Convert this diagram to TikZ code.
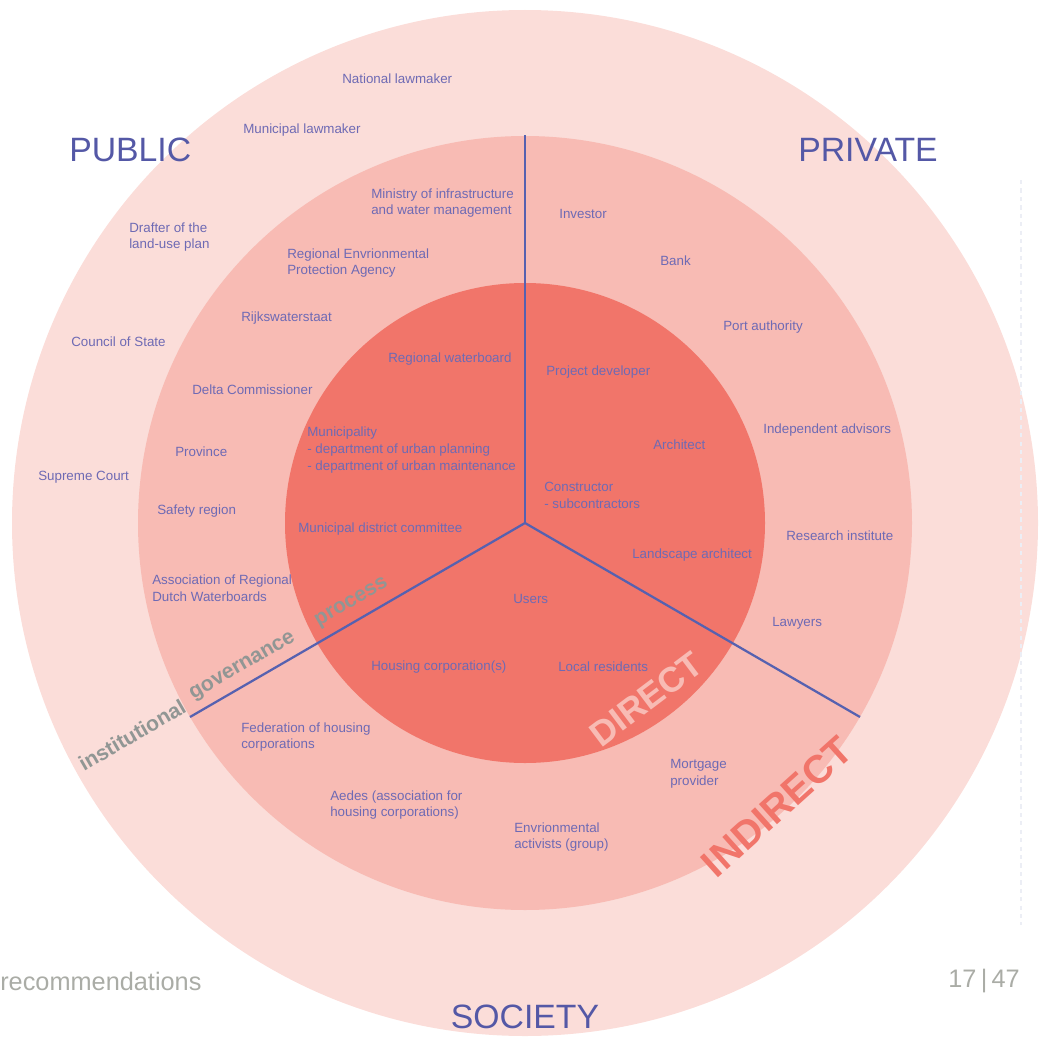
\documentclass[tikz,border=0pt]{standalone}
\usepackage{fontspec}
\setmainfont{Liberation Sans}

\definecolor{outerring}{RGB}{251,221,217}
\definecolor{midring}{RGB}{248,187,180}
\definecolor{innerring}{RGB}{241,117,106}
\definecolor{actortext}{RGB}{110,106,180}
\definecolor{sectortext}{RGB}{84,88,166}
\definecolor{spokeblue}{RGB}{86,97,176}
\definecolor{tiergray}{RGB}{145,150,148}
\definecolor{footgray}{RGB}{170,172,166}

\tikzset{
    actor/.style={anchor=west, align=left, inner sep=0pt, text=actortext,
        font=\fontsize{9.5}{12}\selectfont},
    sector/.style={inner sep=0pt, text=sectortext, font=\fontsize{24}{28}\selectfont},
    tierword/.style={inner sep=0pt, text=tiergray, rotate=30,
        font=\bfseries\fontsize{15}{18}\selectfont},
    spoke/.style={draw=spokeblue, line width=1.6pt},
}

\begin{document}
\begin{tikzpicture}[x=0.025cm, y=-0.025cm]
    \useasboundingbox (0,0) rectangle (1040,1038);

    % rings
    \fill[outerring] (525,523) circle (513);
    \fill[midring] (525,523) circle (387);
    \fill[innerring] (525,523) circle (240);

    % spokes
    \coordinate (hub) at (525,523);
    \coordinate (topend) at (525,135);
    \coordinate (leftend) at (190,717);
    \coordinate (rightend) at (860,717);
    \draw[spoke] (hub) -- (topend);
    \draw[spoke] (hub) -- (leftend);
    \draw[spoke] (hub) -- (rightend);

    % sectors
    \node[sector, anchor=west] (public) at (69,150) {PUBLIC};
    \node[sector, anchor=east] (private) at (938,150) {PRIVATE};
    \node[sector] (society) at (525,1017) {SOCIETY};

    % public, outer ring
    \node[actor] (natlaw) at (342,79) {National lawmaker};
    \node[actor] (munlaw) at (243,130) {Municipal lawmaker};
    \node[actor] (drafter) at (129,237) {Drafter of the\\land-use plan};
    \node[actor] (council) at (71,342) {Council of State};
    \node[actor] (supreme) at (38,477) {Supreme Court};

    % public, middle ring
    \node[actor] (ministry) at (371,203) {Ministry of infrastructure\\and water management};
    \node[actor] (repa) at (287,263) {Regional Envrionmental\\Protection Agency};
    \node[actor] (rws) at (241,318) {Rijkswaterstaat};
    \node[actor] (delta) at (192,390) {Delta Commissioner};
    \node[actor] (province) at (175,452) {Province};
    \node[actor] (safety) at (157,511) {Safety region};
    \node[actor] (uvw) at (152,588) {Association of Regional\\Dutch Waterboards};

    % public, inner circle
    \node[actor] (waterboard) at (388,359) {Regional waterboard};
    \node[actor] (municipality) at (307,450) {Municipality\\- department of urban planning\\- department of urban maintenance};
    \node[actor] (district) at (298,529) {Municipal district committee};

    % private, middle ring
    \node[actor] (investor) at (559,214) {Investor};
    \node[actor] (bank) at (660,261) {Bank};
    \node[actor] (port) at (723,327) {Port authority};
    \node[actor] (advisors) at (763,430) {Independent advisors};
    \node[actor] (research) at (786,536) {Research institute};
    \node[actor] (lawyers) at (772,623) {Lawyers};

    % private, inner circle
    \node[actor] (developer) at (546,372) {Project developer};
    \node[actor] (architect) at (653,445) {Architect};
    \node[actor] (constructor) at (544,495) {Constructor\\- subcontractors};
    \node[actor] (landscape) at (632,555) {Landscape architect};

    % society, inner circle
    \node[actor] (users) at (513,599) {Users};
    \node[actor] (housing) at (371,667) {Housing corporation(s)};
    \node[actor] (residents) at (558,667) {Local residents};

    % society, middle ring
    \node[actor] (federation) at (241,737) {Federation of housing\\corporations};
    \node[actor] (aedes) at (330,805) {Aedes (association for\\housing corporations)};
    \node[actor] (activists) at (514,837) {Envrionmental\\activists (group)};
    \node[actor] (mortgage) at (670,774) {Mortgage\\provider};

    % tiers
    \node[tierword] (institutional) at (132,735) {institutional};
    \node[tierword] (governance) at (243,667) {governance};
    \node[tierword] (process) at (352,603) {process};
    \node[inner sep=0pt, text=midring, rotate=37, font=\bfseries\fontsize{25}{30}\selectfont]
        (direct) at (646,699) {DIRECT};
    \node[inner sep=0pt, text=innerring, rotate=42, font=\bfseries\fontsize{28}{34}\selectfont]
        (indirect) at (777,807) {INDIRECT};

    % page footer
    \node[anchor=west, inner sep=0pt, text=footgray, font=\fontsize{18}{22}\selectfont]
        (chapter) at (0,981) {recommendations};
    \node[anchor=east, inner sep=0pt, text=footgray, font=\fontsize{18}{22}\selectfont]
        (pageno) at (1020,981) {17\,|\,47};
    \draw[draw={rgb,255:red,236;green,238;blue,245}, dashed, line width=1pt] (1021,180) -- (1021,925);
\end{tikzpicture}
\end{document}
